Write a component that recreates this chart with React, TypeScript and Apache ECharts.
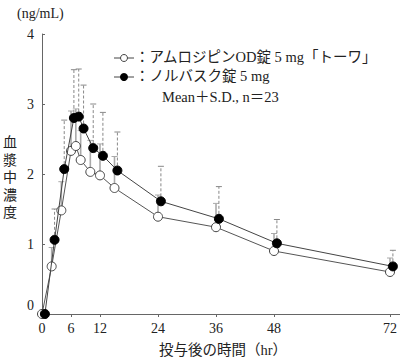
import React, { useEffect, useRef } from "react";
import * as echarts from "echarts";

const times = [0, 2, 4, 6, 7, 8, 10, 12, 15, 24, 36, 48, 72];
const genericMean = [0, 0.68, 1.48, 2.33, 2.4, 2.2, 2.03, 1.98, 1.8, 1.39, 1.24, 0.9, 0.6];
const genericUpper = [0, 0.95, 1.89, 2.9, 2.93, 2.62, 2.48, 2.43, 2.25, 1.7, 1.58, 1.15, 0.8];
const brandMean = [0, 1.06, 2.07, 2.8, 2.82, 2.65, 2.37, 2.26, 2.05, 1.61, 1.36, 1.01, 0.68];
const brandUpper = [0, 1.5, 2.77, 3.49, 3.5, 3.27, 3.0, 2.88, 2.6, 2.11, 1.82, 1.35, 0.91];
const xTicks = [0, 6, 12, 24, 36, 48, 72];
const yTicks = [0, 1, 2, 3, 4];
const legendGeneric = "：アムロジピンOD錠 5 mg「トーワ」";
const legendBrand = "：ノルバスク錠 5 mg";
const legendNote = "Mean＋S.D., n＝23";
const yUnit = "(ng/mL)";
const yTitle = "血漿中濃度";
const xTitle = "投与後の時間（hr）";

const FONT = '"Liberation Serif", "DejaVu Serif", "Noto Sans CJK JP", serif';
const BRAND_SHIFT = 0.6;

function errRender(dashed: boolean, color: string) {
  return (params: any, api: any) => {
    const x = api.value(0);
    const m = api.value(1);
    const u = api.value(2);
    if (u <= m) return { type: "group", children: [] };
    const p0 = api.coord([x, m]);
    const p1 = api.coord([x, u]);
    const style: any = { stroke: color, lineWidth: dashed ? 1 : 1.6 };
    if (dashed) style.lineDash = [3, 2];
    return {
      type: "group",
      children: [
        { type: "line", shape: { x1: p0[0], y1: p0[1], x2: p1[0], y2: p1[1] }, style },
        {
          type: "line",
          shape: { x1: p1[0] - 3, y1: p1[1], x2: p1[0] + 3, y2: p1[1] },
          style: { stroke: color, lineWidth: 1 },
        },
      ],
    };
  };
}

export default function App() {
  const ref = useRef<HTMLDivElement>(null);
  useEffect(() => {
    const chart = echarts.init(ref.current!, null, { renderer: "svg" });
    const genericPts = times.map((t, i) => [t, genericMean[i]]);
    const brandPts = times.map((t, i) => [t + BRAND_SHIFT, brandMean[i]]);
    const genericErr = times.map((t, i) => [t, genericMean[i], genericUpper[i]]);
    const brandErr = times.map((t, i) => [t + BRAND_SHIFT, brandMean[i], brandUpper[i]]);
    chart.setOption({
      animation: false,
      backgroundColor: "#fff",
      grid: { left: 42, right: 0, top: 34, bottom: 50 },
      xAxis: {
        type: "value",
        min: 0,
        max: 74,
        interval: 6,
        splitLine: { show: false },
        axisLine: { show: true, lineStyle: { color: "#666", width: 1 } },
        axisTick: { show: true, inside: false, length: 3, customValues: xTicks, lineStyle: { color: "#666" } },
        axisLabel: {
          customValues: xTicks,
          color: "#222",
          fontFamily: FONT,
          fontSize: 14,
          margin: 7,
        },
      },
      yAxis: {
        type: "value",
        min: 0,
        max: 4,
        interval: 1,
        splitLine: { show: false },
        axisLine: { show: true, lineStyle: { color: "#666", width: 1 } },
        axisTick: { show: true, inside: true, length: 3, lineStyle: { color: "#666" } },
        axisLabel: {
          customValues: yTicks,
          color: "#222",
          fontFamily: FONT,
          fontSize: 14,
          margin: 8,
          formatter: (v: number) => (v === 0 ? "{z|0}" : String(v)),
          rich: { z: { fontFamily: FONT, fontSize: 14, color: "#222", padding: [0, 0, 18, 0] } },
        },
      },
      graphic: [
        { type: "text", left: 17, top: 6, style: { text: yUnit, font: `14px ${FONT}`, fill: "#222" } },
        {
          type: "text",
          left: 3,
          top: 134,
          style: { text: yTitle.split("").join("\n"), font: `14px ${FONT}`, lineHeight: 17.5, fill: "#222" },
        },
        {
          type: "text",
          left: 159,
          top: 343,
          style: { text: xTitle, font: `14.5px ${FONT}`, fill: "#222" },
        },
        { type: "line", shape: { x1: 114, y1: 58, x2: 134, y2: 58 }, style: { stroke: "#444", lineWidth: 1 } },
        { type: "circle", shape: { cx: 124, cy: 58, r: 3.5 }, style: { fill: "#fff", stroke: "#444", lineWidth: 1 } },
        { type: "line", shape: { x1: 114, y1: 77, x2: 134, y2: 77 }, style: { stroke: "#444", lineWidth: 1 } },
        { type: "circle", shape: { cx: 124, cy: 77, r: 4 }, style: { fill: "#000" } },
        { type: "text", left: 135, top: 50, style: { text: legendGeneric, font: `14.5px ${FONT}`, fill: "#222" } },
        { type: "text", left: 135, top: 69, style: { text: legendBrand, font: `14.5px ${FONT}`, fill: "#222" } },
        { type: "text", left: 162, top: 90, style: { text: legendNote, font: `14.5px ${FONT}`, fill: "#222" } },
      ],
      series: [
        {
          type: "custom",
          data: genericErr,
          renderItem: errRender(false, "#aaa"),
          encode: { x: 0, y: [1, 2] },
          z: 1,
          silent: true,
        },
        {
          type: "custom",
          data: brandErr,
          renderItem: errRender(true, "#888"),
          encode: { x: 0, y: [1, 2] },
          z: 1,
          silent: true,
        },
        {
          type: "line",
          data: genericPts,
          symbol: "circle",
          symbolSize: 9,
          lineStyle: { color: "#555", width: 1 },
          itemStyle: { color: "#fff", borderColor: "#444", borderWidth: 1 },
          z: 3,
        },
        {
          type: "line",
          data: brandPts,
          symbol: "circle",
          symbolSize: 9,
          lineStyle: { color: "#444", width: 1 },
          itemStyle: { color: "#000", borderColor: "#000", borderWidth: 1 },
          z: 4,
        },
      ],
    });
    return () => chart.dispose();
  }, []);
  return <div ref={ref} style={{ width: 400, height: 364, position: "absolute", left: 0, top: 0 }} />;
}
